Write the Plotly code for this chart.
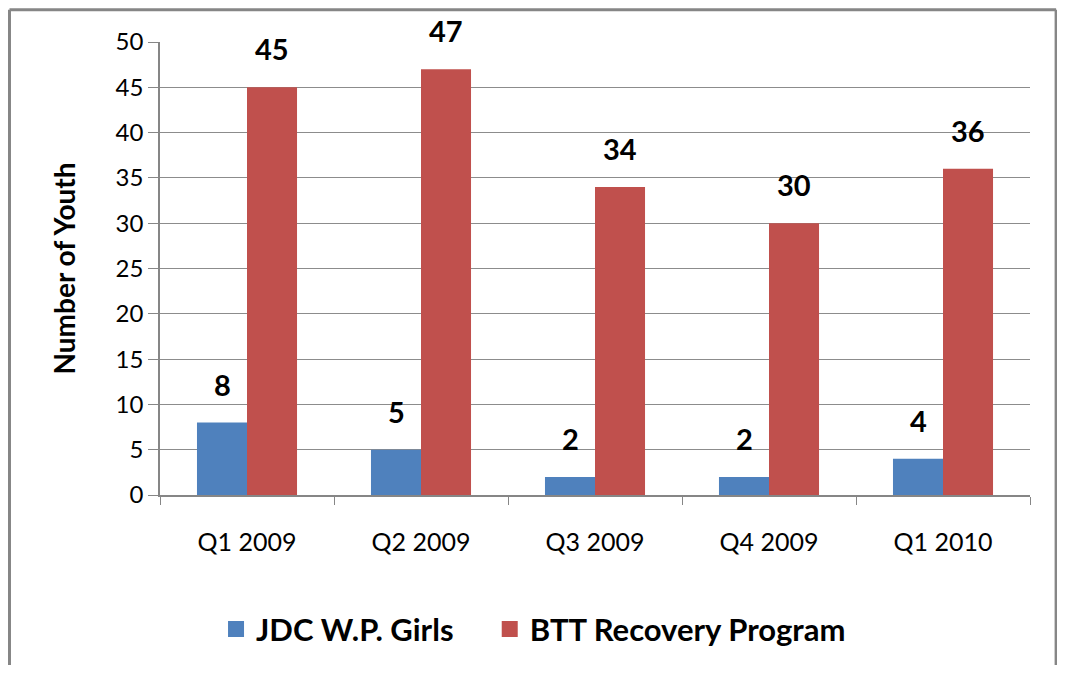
import plotly.graph_objects as go

categories = ["Q1 2009", "Q2 2009", "Q3 2009", "Q4 2009", "Q1 2010"]
jdc_values = [8, 5, 2, 2, 4]
btt_values = [45, 47, 34, 30, 36]
series_names = ["JDC W.P. Girls", "BTT Recovery Program"]
y_ticks = [0, 5, 10, 15, 20, 25, 30, 35, 40, 45, 50]

BLUE = "#4F81BD"
RED = "#C0504D"
FONT = "Lato, Calibri, Arial, sans-serif"
FRAME = "#868686"

fig = go.Figure()
for vals, name, color in ((jdc_values, series_names[0], BLUE), (btt_values, series_names[1], RED)):
    fig.add_trace(go.Bar(x=categories, y=vals, name=name, showlegend=False,
                         marker=dict(color=color, line=dict(width=0))))
# legend entries with larger square swatches, each in its own legend box
for name, color, lg in ((series_names[0], BLUE, "legend"), (series_names[1], RED, "legend2")):
    fig.add_trace(go.Scatter(x=[None], y=[None], mode="markers", name=name, legend=lg,
                             marker=dict(symbol="square", size=20, color=color)))

annotations = []
for vals, shift in ((jdc_values, -25), (btt_values, 25)):
    for c, v in zip(categories, vals):
        annotations.append(dict(x=c, y=v, xref="x", yref="y", text=f"<b>{v}</b>",
                                showarrow=False, xshift=shift, yshift=19,
                                yanchor="bottom",
                                font=dict(family=FONT, size=29, color="#000000")))

legend_style = dict(orientation="h", xanchor="left", y=-0.2967, yanchor="middle",
                    font=dict(family=FONT, size=31, color="#000000", weight="bold"),
                    itemwidth=30, bgcolor="rgba(0,0,0,0)")

fig.update_layout(
    width=1049, height=661,
    margin=dict(l=152, r=27, t=34, b=172),
    paper_bgcolor="white", plot_bgcolor="white",
    barmode="group", bargap=0.425, bargroupgap=0,
    font=dict(family=FONT, color="#000000"),
    showlegend=True,
    legend=dict(x=0.0644, **legend_style),
    legend2=dict(x=0.379, **legend_style),
    annotations=annotations,
    xaxis=dict(showgrid=False, showline=True, linecolor=FRAME, linewidth=1.5,
               ticks="outside", tickson="boundaries", ticklen=8, tickcolor=FRAME,
               tickfont=dict(family=FONT, size=25, color="#000000"),
               ticklabelstandoff=24),
    yaxis=dict(range=[0, 50], tickvals=y_ticks, showgrid=True, gridcolor="#8C8C8C",
               gridwidth=1, showline=True, linecolor=FRAME, linewidth=1.5,
               ticks="outside", ticklen=10, tickcolor=FRAME,
               tickfont=dict(family=FONT, size=24, color="#000000"),
               zeroline=False,
               title=dict(text="<b>Number of Youth</b>", standoff=32,
                          font=dict(family=FONT, size=28, color="#000000"))),
    shapes=[
        dict(type="line", xref="paper", yref="paper", x0=-0.173, x1=1.030, y0=1.0714, y1=1.0714,
             line=dict(color=FRAME, width=3), layer="below"),
        dict(type="line", xref="paper", yref="paper", x0=-0.173, x1=-0.173, y0=1.0714, y1=-0.375,
             line=dict(color=FRAME, width=3), layer="below"),
        dict(type="line", xref="paper", yref="paper", x0=1.030, x1=1.030, y0=1.0714, y1=-0.375,
             line=dict(color=FRAME, width=3), layer="below"),
    ],
)

fig.write_html("out.html")
